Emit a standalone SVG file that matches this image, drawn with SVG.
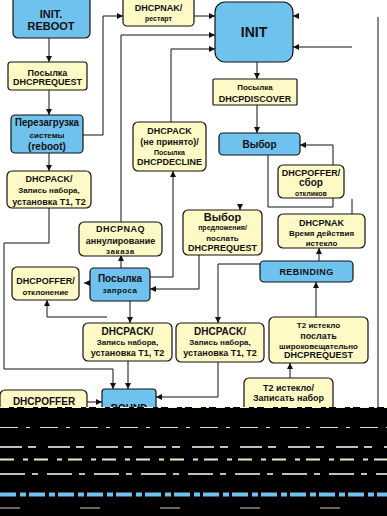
<svg xmlns="http://www.w3.org/2000/svg" width="387" height="516" viewBox="0 0 387 516">
<style>
.y{fill:#FFF9C6;stroke:#111;stroke-width:1.2}
.b{fill:#70C2EE;stroke:#111;stroke-width:1.2}
text{font-family:"Liberation Sans",Arial,sans-serif;font-weight:bold;fill:#111;text-anchor:middle}
.s7{font-size:7px}.s8{font-size:8px}.s9{font-size:9px}.s10{font-size:10px}.s11{font-size:11px}.s14{font-size:14px}
.c path{fill:none;stroke:#111;stroke-width:1}
</style>
<defs>
<marker id="a" markerUnits="userSpaceOnUse" markerWidth="6" markerHeight="6" refX="6" refY="3" orient="auto">
<path d="M0,0 L6,3 L0,6 z" fill="#111"/>
</marker>
</defs>
<rect width="387" height="516" fill="#fff"/>
<g class="c" id="connectors">
<path d="M49,38 V62" marker-end="url(#a)"/>
<path d="M49,90 V115" marker-end="url(#a)"/>
<path d="M49,153 V171" marker-end="url(#a)"/>
<path d="M83,135 H103 V16 H123" marker-end="url(#a)"/>
<path d="M194,16 H215" marker-end="url(#a)"/>
<path d="M121,222 V35 H215" marker-end="url(#a)"/>
<path d="M171,122 V49 H215" marker-end="url(#a)"/>
<path d="M257,62 V79" marker-end="url(#a)"/>
<path d="M257,105 V133" marker-end="url(#a)"/>
<path d="M299,16 H293" marker-end="url(#a)"/>
<path d="M352,47 H293" marker-end="url(#a)"/>
<path d="M378,17 V410"/>
<path d="M268,155 V207 H333 V198"/>
<path d="M333,165 V145 H300" marker-end="url(#a)"/>
<path d="M240,204 V210" marker-end="url(#a)"/>
<path d="M352,199 V214"/>
<path d="M319,261 V248" marker-end="url(#a)"/>
<path d="M260,264 H218 V323" marker-end="url(#a)"/>
<path d="M316,317 V282" marker-end="url(#a)"/>
<path d="M290,378 V363" marker-end="url(#a)"/>
<path d="M121,268 V255" marker-end="url(#a)"/>
<path d="M90,283 H84" marker-end="url(#a)"/>
<path d="M107,317 H47 V300" marker-end="url(#a)"/>
<path d="M130,301 V323" marker-end="url(#a)"/>
<path d="M150,277 H173 V171" marker-end="url(#a)"/>
<path d="M199,255 V289 H150" marker-end="url(#a)"/>
<path d="M49,208 V243 H4 V369 H113 V389" marker-end="url(#a)"/>
<path d="M128,361 V389" marker-end="url(#a)"/>
<path d="M218,362 V397 H156" marker-end="url(#a)"/>
<path d="M87,402 H102" marker-end="url(#a)"/>
</g>
<g id="n-initreboot"><rect class="b" x="13" y="-6" width="77" height="44" rx="5"/><text class="s11" x="51" y="18">INIT.</text><text class="s11" x="51" y="29.5">REBOOT</text></g>
<g id="n-request"><rect class="y" x="8" y="62" width="79" height="28" rx="3"/><text class="s9" x="47.5" y="75.5">Посылка</text><text class="s9" x="47.5" y="85">DHCPREQUEST</text></g>
<g id="n-reboot"><rect class="b" x="11" y="115" width="72" height="38" rx="4"/><text class="s10" x="47" y="126" textLength="64" lengthAdjust="spacingAndGlyphs">Перезагрузка</text><text class="s8" x="47" y="138">системы</text><text class="s10" x="47" y="150">(reboot)</text></g>
<g id="n-ack1"><rect class="y" x="7" y="171" width="84" height="37" rx="5"/><text class="s9" x="49" y="182">DHCPACK/</text><text class="s8" x="49" y="193">Запись набора,</text><text class="s9" x="49" y="204.5">установка T1, T2</text></g>
<g id="n-nak"><rect class="y" x="123" y="-6" width="71" height="32" rx="4"/><text class="s9" x="158.5" y="10.5">DHCPNAK/</text><text class="s7" x="158.5" y="20.5">рестарт</text></g>
<g id="n-init"><rect class="b" x="215" y="2" width="78" height="60" rx="10"/><text class="s14" x="254" y="37">INIT</text></g>
<g id="n-discover"><rect class="y" x="213" y="79" width="84" height="26" rx="1"/><text class="s8" x="255" y="90">Посылка</text><text class="s9" x="255" y="101.5">DHCPDISCOVER</text></g>
<g id="n-decline"><rect class="y" x="133" y="122" width="73" height="49" rx="5"/><text class="s9" x="169.5" y="133.5">DHCPACK</text><text class="s9" x="169.5" y="144.5">(не принято)/</text><text class="s7" x="169.5" y="154.5">Посылка</text><text class="s9" x="169.5" y="164.5">DHCPDECLINE</text></g>
<g id="n-vybor"><rect class="b" x="219" y="133" width="81" height="22" rx="4"/><text class="s10" x="259.5" y="147.5">Выбор</text></g>
<g id="n-offer-collect"><rect class="y" x="278" y="165" width="66" height="33" rx="5"/><text class="s9" x="311" y="175.5">DHCPOFFER/</text><text class="s10" x="311" y="186">сбор</text><text class="s7" x="311" y="195.5">откликов</text></g>
<g id="n-choose"><rect class="y" x="183" y="210" width="79" height="45" rx="5"/><text class="s11" x="222.5" y="220.5">Выбор</text><text class="s7" x="222.5" y="230">предложения/</text><text class="s8" x="222.5" y="240.5">послать</text><text class="s9" x="222.5" y="250.5">DHCPREQUEST</text></g>
<g id="n-nak2"><rect class="y" x="278" y="214" width="87" height="34" rx="5"/><text class="s9" x="321.5" y="225.5">DHCPNAK</text><text class="s8" x="321.5" y="235.5">Время действия</text><text class="s8" x="321.5" y="245.5">истекло</text></g>
<g id="n-naq"><rect class="y" x="79" y="222" width="83" height="34" rx="5"/><text class="s9" x="120.5" y="232" letter-spacing="0.5">DHCPNAQ</text><text class="s9" x="120.5" y="243.5">аннулирование</text><text class="s8" x="120.5" y="254" letter-spacing="0.6">заказа</text></g>
<g id="n-offer-reject"><rect class="y" x="12" y="267" width="67" height="33" rx="5"/><text class="s9" x="45.5" y="283.5">DHCPOFFER/</text><text class="s8" x="45.5" y="294.5">отклонение</text></g>
<g id="n-sendreq"><rect class="b" x="90" y="268" width="60" height="33" rx="4"/><text class="s10" x="120" y="282">Посылка</text><text class="s8" x="120" y="292.5" letter-spacing="0.4">запроса</text></g>
<g id="n-rebinding"><rect class="b" x="260" y="261" width="93" height="21" rx="4"/><text class="s9" x="306.5" y="274.5" letter-spacing="0.4">REBINDING</text></g>
<g id="n-ack2"><rect class="y" x="83" y="323" width="89" height="38" rx="5"/><text class="s10" x="127.5" y="334.5">DHCPACK/</text><text class="s8" x="127.5" y="344.5">Запись набора,</text><text class="s9" x="127.5" y="355.5">установка T1, T2</text></g>
<g id="n-ack3"><rect class="y" x="176" y="323" width="88" height="39" rx="5"/><text class="s10" x="220" y="334.5">DHCPACK/</text><text class="s8" x="220" y="344.5">Запись набора,</text><text class="s9" x="220" y="355.5">установка T1, T2</text></g>
<g id="n-t2bcast"><rect class="y" x="269" y="317" width="99" height="46" rx="5"/><text class="s8" x="318.5" y="328">T2 истекло</text><text class="s9" x="318.5" y="338.5">послать</text><text class="s8" x="318.5" y="348.5">широковещательно</text><text class="s9" x="318.5" y="358">DHCPREQUEST</text></g>
<g id="n-t2exp"><rect class="y" x="244" y="378" width="89" height="40" rx="5"/><text class="s9" x="288.5" y="391">T2 истекло/</text><text class="s9" x="288.5" y="401">Записать набор</text></g>
<g id="n-offer3"><rect class="y" x="0" y="390" width="87" height="30" rx="5"/><text class="s10" x="44" y="404.5">DHCPOFFER</text></g>
<g id="n-bound"><rect class="b" x="102" y="389" width="54" height="30" rx="3"/><text class="s10" x="129" y="412">BOUND</text></g>
<g id="damaged-band">
<rect x="0" y="407" width="387" height="109" fill="#000"/>
<path d="M0,407.5 H387" stroke="#FFF9C6" stroke-width="1" stroke-dasharray="9 5 3 7"/>
<path d="M0,427.5 H387" stroke="#ddd" stroke-width="1" stroke-dasharray="18 8 4 10"/>
<path d="M0,447 H387" stroke="#fff" stroke-width="1.5" stroke-dasharray="22 6 8 12"/>
<path d="M0,459.5 H387" stroke="#EEE9C0" stroke-width="2" stroke-dasharray="14 9 5 6"/>
<path d="M0,474 H387" stroke="#fff" stroke-width="1.5" stroke-dasharray="25 7 6 9"/>
<path d="M0,494.5 H387" stroke="#70C2EE" stroke-width="4" stroke-dasharray="16 4 6 3"/>
<path d="M0,508 H387" stroke="#ccc" stroke-width="1" stroke-dasharray="20 60"/>
</g>
</svg>
